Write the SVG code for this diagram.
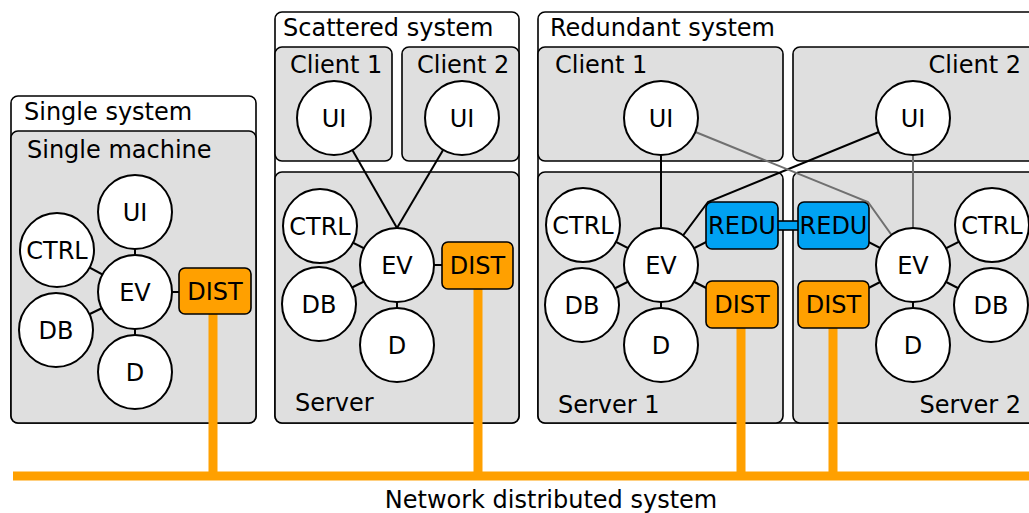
<svg xmlns="http://www.w3.org/2000/svg" width="1029" height="513" viewBox="0 0 1029 513">
  <style>
    text { font-family: "DejaVu Sans", Verdana, sans-serif; font-size: 24px; fill: #000; }
    .mid { text-anchor: middle; }
    .end { text-anchor: end; }
    .frame { fill: #fff; stroke: #000; stroke-width: 1.6; }
    .area { fill: #dfdfdf; stroke: #000; stroke-width: 1.6; }
    .comp { fill: #fff; stroke: #000; stroke-width: 2; }
    .dist { fill: #ffa000; stroke: #000; stroke-width: 1.6; }
    .redu { fill: #00a2f2; stroke: #000; stroke-width: 1.6; }
    .link { stroke: #000; stroke-width: 2; fill: none; }
    .link-grey { stroke: #707070; stroke-width: 2; fill: none; }
    .net { stroke: #ffa000; stroke-width: 9; fill: none; }
  </style>

  <!-- Containers -->
  <g id="containers">
    <!-- Single system -->
    <rect class="frame" x="11" y="96" width="245" height="327" rx="7"/>
    <rect class="area" x="11" y="131" width="245" height="292" rx="7"/>
    <text x="24" y="120">Single system</text>
    <text x="27" y="158">Single machine</text>

    <!-- Scattered system -->
    <rect class="frame" x="275" y="12" width="244" height="411" rx="7"/>
    <rect class="area" x="275" y="47" width="117" height="114" rx="7"/>
    <rect class="area" x="402" y="47" width="117" height="114" rx="7"/>
    <rect class="area" x="275" y="172" width="244" height="251" rx="7"/>
    <text x="283" y="36">Scattered system</text>
    <text x="290" y="73">Client 1</text>
    <text x="417" y="73">Client 2</text>
    <text x="295" y="411">Server</text>

    <!-- Redundant system -->
    <rect class="frame" x="538" y="12" width="500" height="411" rx="7"/>
    <rect class="area" x="538" y="47" width="245" height="114" rx="7"/>
    <rect class="area" x="793" y="47" width="245" height="114" rx="7"/>
    <rect class="area" x="538" y="172" width="245" height="251" rx="7"/>
    <rect class="area" x="793" y="172" width="245" height="251" rx="7"/>
    <text x="550" y="36">Redundant system</text>
    <text x="555" y="73">Client 1</text>
    <text class="end" x="1021" y="73">Client 2</text>
    <text x="558" y="413">Server 1</text>
    <text class="end" x="1021" y="413">Server 2</text>
  </g>

  <!-- Connectors -->
  <g id="connectors">
    <!-- single machine -->
    <line class="link" x1="135" y1="212" x2="135" y2="372"/>
    <line class="link" x1="57" y1="250" x2="135" y2="292"/>
    <line class="link" x1="57" y1="330" x2="135" y2="292"/>
    <line class="link" x1="135" y1="292" x2="180" y2="292"/>

    <!-- scattered -->
    <line class="link" x1="334" y1="118" x2="397" y2="228"/>
    <line class="link" x1="462" y1="118" x2="397" y2="228"/>
    <line class="link" x1="397" y1="265" x2="397" y2="345"/>
    <line class="link" x1="320" y1="226" x2="397" y2="265"/>
    <line class="link" x1="319" y1="304" x2="397" y2="265"/>
    <line class="link" x1="397" y1="265" x2="443" y2="265"/>

    <!-- redundant, server 1 -->
    <line class="link" x1="661" y1="118" x2="661" y2="345"/>
    <line class="link" x1="583" y1="225" x2="661" y2="265"/>
    <line class="link" x1="582" y1="305" x2="661" y2="265"/>
    <line class="link" x1="661" y1="265" x2="720" y2="235"/>
    <line class="link" x1="661" y1="265" x2="720" y2="295"/>
    <polyline class="link" points="913,118 708,202 661,265"/>

    <!-- redundant, server 2 -->
    <line class="link" x1="913" y1="265" x2="913" y2="345"/>
    <line class="link-grey" x1="913" y1="118" x2="913" y2="265"/>
    <line class="link" x1="992" y1="225" x2="913" y2="265"/>
    <line class="link" x1="991" y1="305" x2="913" y2="265"/>
    <line class="link" x1="913" y1="265" x2="855" y2="235"/>
    <line class="link" x1="913" y1="265" x2="855" y2="295"/>
    <polyline class="link-grey" points="661,118 868,202 913,265"/>

    <!-- redundancy link -->
    <rect class="redu" x="776" y="221" width="24" height="9"/>

    <!-- network bus -->
    <line class="net" x1="13" y1="476" x2="1029" y2="476"/>
    <line class="net" x1="213" y1="314" x2="213" y2="476"/>
    <line class="net" x1="478" y1="289" x2="478" y2="476"/>
    <line class="net" x1="741" y1="328" x2="741" y2="476"/>
    <line class="net" x1="833" y1="328" x2="833" y2="476"/>
    <text class="mid" x="551" y="508">Network distributed system</text>
  </g>

  <!-- Single system nodes -->
  <g id="s-ui"><circle class="comp" cx="135" cy="212" r="37"/><text class="mid" x="135" y="220.5">UI</text></g>
  <g id="s-ev"><circle class="comp" cx="135" cy="292" r="37"/><text class="mid" x="135" y="300.5">EV</text></g>
  <g id="s-d"><circle class="comp" cx="135" cy="372" r="37"/><text class="mid" x="135" y="380.5">D</text></g>
  <g id="s-ctrl"><circle class="comp" cx="57" cy="250" r="37"/><text class="mid" x="57" y="258.5">CTRL</text></g>
  <g id="s-db"><circle class="comp" cx="56" cy="330" r="37"/><text class="mid" x="56" y="338.5">DB</text></g>
  <g id="s-dist"><rect class="dist" x="179" y="268" width="72" height="46" rx="6"/><text class="mid" x="215" y="299.5">DIST</text></g>

  <!-- Scattered system nodes -->
  <g id="c-ui1"><circle class="comp" cx="334" cy="118" r="37"/><text class="mid" x="334" y="126.5">UI</text></g>
  <g id="c-ui2"><circle class="comp" cx="462" cy="118" r="37"/><text class="mid" x="462" y="126.5">UI</text></g>
  <g id="c-ev"><circle class="comp" cx="397" cy="265" r="37"/><text class="mid" x="397" y="273.5">EV</text></g>
  <g id="c-ctrl"><circle class="comp" cx="320" cy="226" r="37"/><text class="mid" x="320" y="234.5">CTRL</text></g>
  <g id="c-db"><circle class="comp" cx="319" cy="304" r="37"/><text class="mid" x="319" y="312.5">DB</text></g>
  <g id="c-d"><circle class="comp" cx="397" cy="345" r="37"/><text class="mid" x="397" y="353.5">D</text></g>
  <g id="c-dist"><rect class="dist" x="442" y="242" width="71" height="47" rx="6"/><text class="mid" x="477.5" y="274">DIST</text></g>

  <!-- Redundant system nodes, side 1 -->
  <g id="r-ui1"><circle class="comp" cx="661" cy="118" r="37"/><text class="mid" x="661" y="126.5">UI</text></g>
  <g id="r-ev1"><circle class="comp" cx="661" cy="265" r="37"/><text class="mid" x="661" y="273.5">EV</text></g>
  <g id="r-ctrl1"><circle class="comp" cx="583" cy="225" r="37"/><text class="mid" x="583" y="233.5">CTRL</text></g>
  <g id="r-db1"><circle class="comp" cx="582" cy="305" r="37"/><text class="mid" x="582" y="313.5">DB</text></g>
  <g id="r-d1"><circle class="comp" cx="661" cy="345" r="37"/><text class="mid" x="661" y="353.5">D</text></g>
  <g id="r-redu1"><rect class="redu" x="706" y="202" width="72" height="47" rx="6"/><text class="mid" x="742" y="234">REDU</text></g>
  <g id="r-dist1"><rect class="dist" x="706" y="281" width="72" height="47" rx="6"/><text class="mid" x="742" y="313">DIST</text></g>

  <!-- Redundant system nodes, side 2 -->
  <g id="r-ui2"><circle class="comp" cx="913" cy="118" r="37"/><text class="mid" x="913" y="126.5">UI</text></g>
  <g id="r-ev2"><circle class="comp" cx="913" cy="265" r="37"/><text class="mid" x="913" y="273.5">EV</text></g>
  <g id="r-ctrl2"><circle class="comp" cx="992" cy="225" r="37"/><text class="mid" x="992" y="233.5">CTRL</text></g>
  <g id="r-db2"><circle class="comp" cx="991" cy="305" r="37"/><text class="mid" x="991" y="313.5">DB</text></g>
  <g id="r-d2"><circle class="comp" cx="913" cy="345" r="37"/><text class="mid" x="913" y="353.5">D</text></g>
  <g id="r-redu2"><rect class="redu" x="798" y="202" width="71" height="47" rx="6"/><text class="mid" x="833.5" y="234">REDU</text></g>
  <g id="r-dist2"><rect class="dist" x="798" y="281" width="71" height="47" rx="6"/><text class="mid" x="833.5" y="313">DIST</text></g>
</svg>
